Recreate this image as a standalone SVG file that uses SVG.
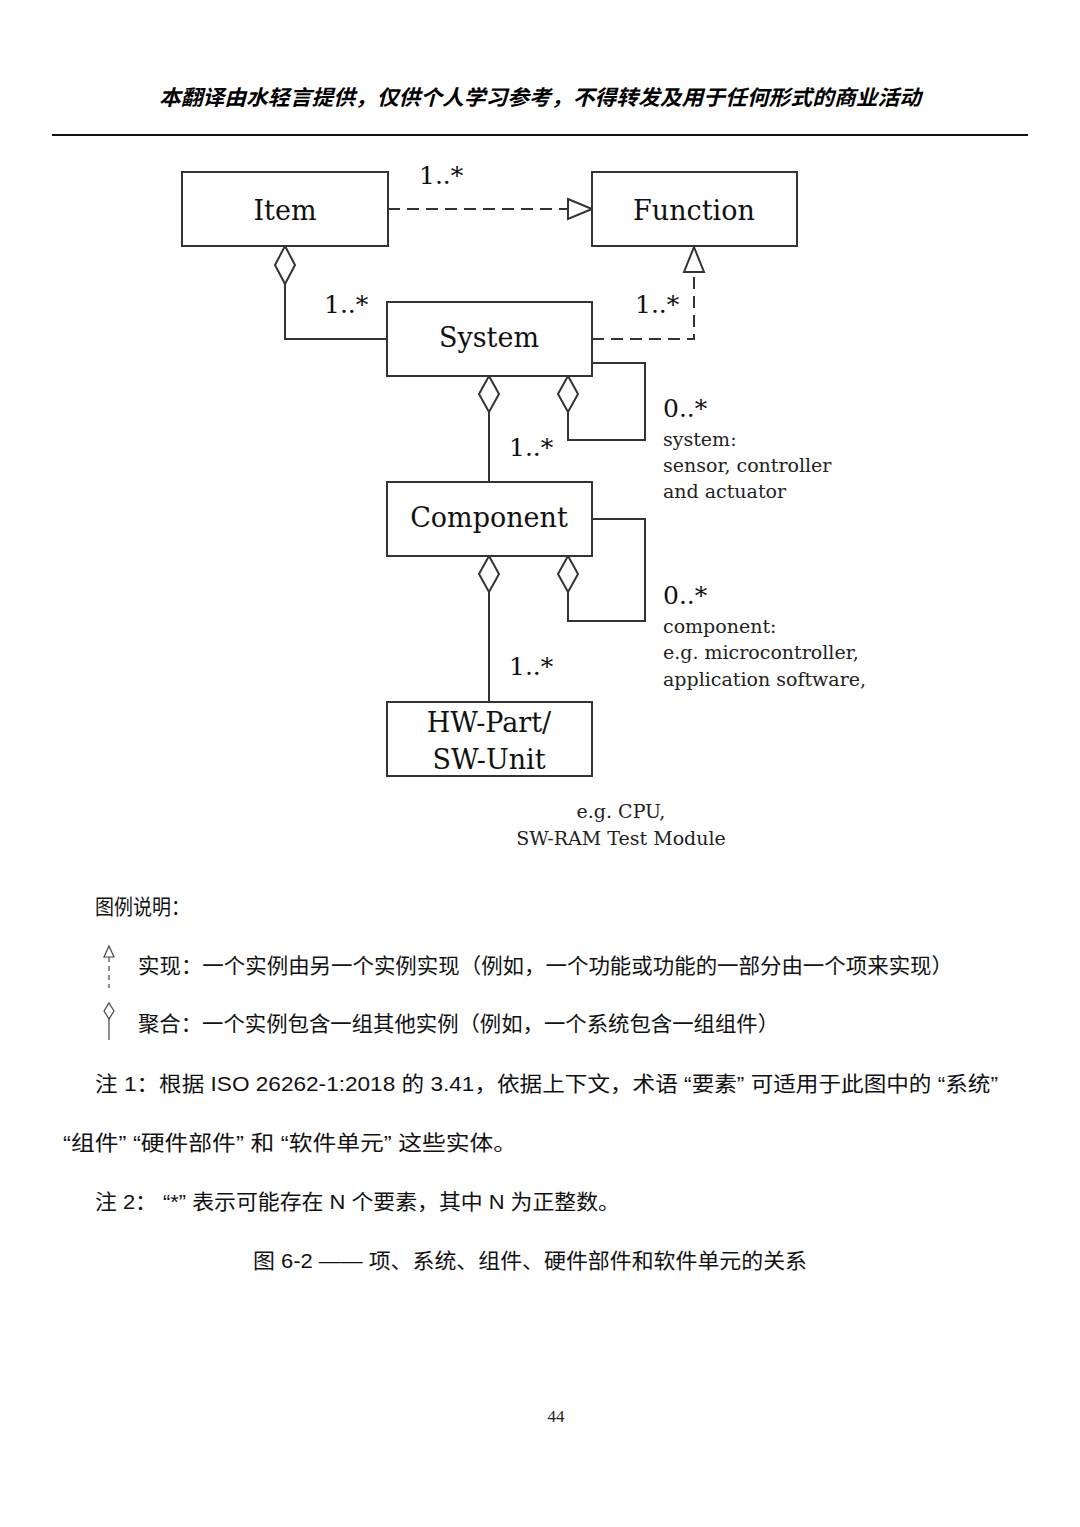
<svg xmlns="http://www.w3.org/2000/svg" width="1080" height="1527" viewBox="0 0 1080 1527">
<style>
.box{fill:#fff;stroke:#333;stroke-width:2}
.ln{fill:none;stroke:#333;stroke-width:2}
.dash{fill:none;stroke:#333;stroke-width:2;stroke-dasharray:12,7}
.dia{fill:#fff;stroke:#333;stroke-width:2}
.nm{font-family:"DejaVu Serif","Liberation Serif",serif;font-size:27px;fill:#111;text-anchor:middle}
.mul{font-family:"DejaVu Serif","Liberation Serif",serif;font-size:25px;fill:#111}
.ann{font-family:"DejaVu Serif","Liberation Serif",serif;font-size:19px;fill:#222}
.zh{font-family:"Liberation Sans","Noto Sans CJK SC",sans-serif;font-size:21px;fill:#111}
</style>
<rect width="1080" height="1527" fill="#fff"/>
<text x="540" y="105" text-anchor="middle" style="font-family:'Liberation Sans','Noto Sans CJK SC',sans-serif;font-size:21px;font-weight:bold;font-style:italic" textLength="762" lengthAdjust="spacingAndGlyphs">本翻译由水轻言提供，仅供个人学习参考，不得转发及用于任何形式的商业活动</text>
<line x1="52" y1="135" x2="1028" y2="135" stroke="#111" stroke-width="2"/>

<g id="connectors">
<path class="dash" d="M388,209 H570"/>
<polygon class="dia" points="568,199 592,209 568,219"/>
<path class="ln" d="M285,284 V339 H387"/>
<polygon class="dia" points="285,246 295,265 285,284 275,265"/>
<path class="dash" d="M592,339 H694 V272"/>
<polygon class="dia" points="694,247 704,272 684,272"/>
<path class="ln" d="M489,412 V482"/>
<polygon class="dia" points="489,376 499,394 489,412 479,394"/>
<path class="ln" d="M568,412 V440 H645 V363 H592"/>
<polygon class="dia" points="568,376 578,394 568,412 558,394"/>
<path class="ln" d="M489,592 V702"/>
<polygon class="dia" points="489,556 499,574 489,592 479,574"/>
<path class="ln" d="M568,592 V621 H645 V519 H592"/>
<polygon class="dia" points="568,556 578,574 568,592 558,574"/>
</g>

<g id="item"><rect class="box" x="182" y="172" width="206" height="74"/><text class="nm" x="285" y="220">Item</text></g>
<g id="function"><rect class="box" x="592" y="172" width="205" height="74"/><text class="nm" x="694" y="220">Function</text></g>
<g id="system"><rect class="box" x="387" y="302" width="205" height="74"/><text class="nm" x="489" y="347">System</text></g>
<g id="component"><rect class="box" x="387" y="482" width="205" height="74"/><text class="nm" x="489" y="527">Component</text></g>
<g id="hwsw"><rect class="box" x="387" y="702" width="205" height="74"/><text class="nm" x="489" y="732">HW-Part/</text><text class="nm" x="489" y="769">SW-Unit</text></g>

<g id="labels">
<text class="mul" x="419" y="184">1..*</text>
<text class="mul" x="324" y="313">1..*</text>
<text class="mul" x="635" y="313">1..*</text>
<text class="mul" x="509" y="456">1..*</text>
<text class="mul" x="509" y="675">1..*</text>
<text class="mul" x="663" y="417">0..*</text>
<text class="mul" x="663" y="604">0..*</text>
<text class="ann" x="663" y="446">system:</text>
<text class="ann" x="663" y="472">sensor, controller</text>
<text class="ann" x="663" y="498">and actuator</text>
<text class="ann" x="663" y="633">component:</text>
<text class="ann" x="663" y="659">e.g. microcontroller,</text>
<text class="ann" x="663" y="686">application software,</text>
<text class="ann" x="621" y="818" text-anchor="middle">e.g. CPU,</text>
<text class="ann" x="621" y="845" text-anchor="middle">SW-RAM Test Module</text>
</g>

<g id="legend">
<text class="zh" x="95" y="914" textLength="95" lengthAdjust="spacingAndGlyphs">图例说明：</text>
<polygon points="109,946 114,957 104,957" fill="#fff" stroke="#444" stroke-width="1.2"/>
<line x1="109" y1="957" x2="109" y2="988" stroke="#444" stroke-width="1.2" stroke-dasharray="5,4"/>
<text class="zh" x="138" y="973" textLength="815" lengthAdjust="spacingAndGlyphs">实现：一个实例由另一个实例实现（例如，一个功能或功能的一部分由一个项来实现）</text>
<polygon points="109,1003 114,1011 109,1019 104,1011" fill="#fff" stroke="#444" stroke-width="1.2"/>
<line x1="109" y1="1019" x2="109" y2="1040" stroke="#444" stroke-width="1.2"/>
<text class="zh" x="138" y="1031" textLength="641" lengthAdjust="spacingAndGlyphs">聚合：一个实例包含一组其他实例（例如，一个系统包含一组组件）</text>
</g>

<g id="notes">
<text class="zh" x="95" y="1091" textLength="903" lengthAdjust="spacingAndGlyphs">注 1：根据 ISO 26262-1:2018 的 3.41，依据上下文，术语 “要素” 可适用于此图中的 “系统”</text>
<text class="zh" x="63" y="1150" textLength="454" lengthAdjust="spacingAndGlyphs">“组件”   “硬件部件” 和 “软件单元” 这些实体。</text>
<text class="zh" x="95" y="1209" textLength="525" lengthAdjust="spacingAndGlyphs">注 2：   “*” 表示可能存在 N 个要素，其中 N 为正整数。</text>
<text class="zh" x="253" y="1268" textLength="554" lengthAdjust="spacingAndGlyphs">图 6-2 —— 项、系统、组件、硬件部件和软件单元的关系</text>
<text x="556" y="1422" text-anchor="middle" style="font-family:'Liberation Serif',serif;font-size:17px;fill:#222">44</text>
</g>
</svg>
